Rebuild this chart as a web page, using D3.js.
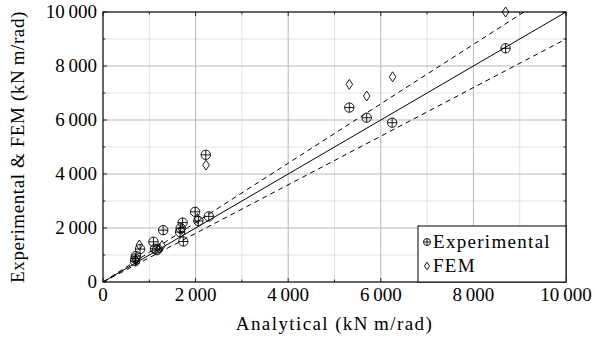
<!DOCTYPE html>
<html>
<head>
<meta charset="utf-8">
<script src="https://cdn.jsdelivr.net/npm/d3@7"></script>
<style>
  body { margin: 0; background: #fff; }
</style>
</head>
<body>
<div id="chart"></div>
<script>
// analytical vs experimental stiffness (kN m/rad)
const experimental = [
  [692, 770], [700, 870], [712, 960], [800, 1220],
  [1090, 1490], [1125, 1230], [1165, 1180], [1300, 1920],
  [1665, 1850], [1678, 1990], [1720, 2200], [1735, 1500],
  [1990, 2600], [2060, 2260], [2285, 2430], [2220, 4710],
  [5320, 6460], [5695, 6085], [6245, 5900], [8695, 8656]
];
const fem = [
  [705, 820], [785, 1370], [1215, 1240], [1275, 1350],
  [1700, 1950], [2040, 2350], [2225, 4330],
  [5320, 7320], [5695, 6890], [6255, 7600], [8695, 10000]
];
const majorTicks = [0, 2000, 4000, 6000, 8000, 10000];
const minorTicks = [1000, 3000, 5000, 7000, 9000];
const refLines = [
  { slope: 1.0, dash: null },
  { slope: 1.1, dash: '5,4' },
  { slope: 0.9, dash: '5,4' }
];

const W = 593, H = 339;
const margin = { top: 12, right: 27, bottom: 57, left: 103 };
const width = W - margin.left - margin.right;
const height = H - margin.top - margin.bottom;
const FONT = "'Liberation Serif', 'DejaVu Serif', 'Times New Roman', serif";

const fmt = d => d3.format(',')(d).replace(/,/g, '\u2009');

const x = d3.scaleLinear().domain([0, 10000]).range([0, width]);
const y = d3.scaleLinear().domain([0, 10000]).range([height, 0]);

const svg = d3.select('#chart').append('svg')
  .attr('width', W)
  .attr('height', H)
  .attr('font-family', FONT)
  .style('font-family', FONT);

const g = svg.append('g')
  .attr('transform', `translate(${margin.left},${margin.top})`);

// grid
g.append('g').selectAll('line').data(minorTicks).join('line')
  .attr('x1', d => x(d)).attr('x2', d => x(d))
  .attr('y1', 0).attr('y2', height)
  .attr('stroke', '#e3e3e3').attr('stroke-width', 1);
g.append('g').selectAll('line').data(minorTicks).join('line')
  .attr('y1', d => y(d)).attr('y2', d => y(d))
  .attr('x1', 0).attr('x2', width)
  .attr('stroke', '#e3e3e3').attr('stroke-width', 1);
g.append('g').selectAll('line').data(majorTicks.slice(1, -1)).join('line')
  .attr('x1', d => x(d)).attr('x2', d => x(d))
  .attr('y1', 0).attr('y2', height)
  .attr('stroke', '#b8b8b8').attr('stroke-width', 1);
g.append('g').selectAll('line').data(majorTicks.slice(1, -1)).join('line')
  .attr('y1', d => y(d)).attr('y2', d => y(d))
  .attr('x1', 0).attr('x2', width)
  .attr('stroke', '#b8b8b8').attr('stroke-width', 1);

// reference lines y = k x, clipped to the box
g.append('clipPath').attr('id', 'clip')
  .append('rect').attr('width', width).attr('height', height);
g.append('g').attr('clip-path', 'url(#clip)')
  .selectAll('line').data(refLines).join('line')
  .attr('x1', x(0)).attr('y1', y(0))
  .attr('x2', d => x(Math.min(10000, 10000 / d.slope)))
  .attr('y2', d => y(Math.min(10000, 10000 / d.slope) * d.slope))
  .attr('stroke', '#000').attr('stroke-width', 1)
  .attr('stroke-dasharray', d => d.dash);

// markers
function plusCircle(sel, r) {
  sel.append('circle').attr('r', r)
    .attr('fill', 'none').attr('stroke', '#000').attr('stroke-width', 0.9);
  sel.append('path').attr('d', `M${-r},0H${r}M0,${-r}V${r}`)
    .attr('stroke', '#000').attr('stroke-width', 0.9);
}
function diamond(sel, w, h) {
  sel.append('path').attr('d', `M0,${-h}L${w},0L0,${h}L${-w},0Z`)
    .attr('fill', 'none').attr('stroke', '#000').attr('stroke-width', 0.9);
}

g.append('g').selectAll('g').data(experimental).join('g')
  .attr('transform', d => `translate(${x(d[0])},${y(d[1])})`)
  .call(plusCircle, 4.7);
g.append('g').selectAll('g').data(fem).join('g')
  .attr('transform', d => `translate(${x(d[0])},${y(d[1])})`)
  .call(diamond, 3.3, 5);

// frame and inward ticks on all four sides
g.append('rect').attr('width', width).attr('height', height)
  .attr('fill', 'none').attr('stroke', '#000').attr('stroke-width', 1.2);

const tickData = majorTicks.map(v => ({ v, len: 4 })).concat(minorTicks.map(v => ({ v, len: 2.5 })));
const ticks = g.append('g').attr('stroke', '#000').attr('stroke-width', 0.8);
tickData.forEach(t => {
  ticks.append('line').attr('x1', x(t.v)).attr('x2', x(t.v)).attr('y1', height).attr('y2', height - t.len);
  ticks.append('line').attr('x1', x(t.v)).attr('x2', x(t.v)).attr('y1', 0).attr('y2', t.len);
  ticks.append('line').attr('y1', y(t.v)).attr('y2', y(t.v)).attr('x1', 0).attr('x2', t.len);
  ticks.append('line').attr('y1', y(t.v)).attr('y2', y(t.v)).attr('x1', width).attr('x2', width - t.len);
});

// tick labels
g.append('g').selectAll('text').data(majorTicks).join('text')
  .attr('x', d => x(d)).attr('y', height + 19)
  .attr('text-anchor', 'middle')
  .style('font-size', '19px')
  .text(fmt);
g.append('g').selectAll('text').data(majorTicks).join('text')
  .attr('x', -6).attr('y', d => y(d) + 6)
  .attr('text-anchor', 'end')
  .style('font-size', '19px')
  .text(fmt);

// axis titles
g.append('text')
  .attr('x', width / 2).attr('y', height + 48)
  .attr('text-anchor', 'middle')
  .style('font-size', '19px')
  .style('letter-spacing', '1.4px')
  .text('Analytical (kN\u2009m/rad)');
g.append('text')
  .attr('transform', `translate(${-79},${height / 2}) rotate(-90)`)
  .attr('text-anchor', 'middle')
  .style('font-size', '19px')
  .style('letter-spacing', '0.6px')
  .text('Experimental & FEM (kN\u2009m/rad)');

// legend
const legend = g.append('g').attr('transform', `translate(${width - 148},${height - 56})`);
legend.append('rect').attr('width', 148).attr('height', 56)
  .attr('fill', '#fff').attr('stroke', '#000').attr('stroke-width', 1);
const items = [{ name: 'Experimental', draw: s => plusCircle(s, 3.5) }, { name: 'FEM', draw: s => diamond(s, 2.6, 3.8) }];
items.forEach((it, i) => {
  const row = legend.append('g').attr('transform', `translate(9,${16 + i * 24})`);
  row.append('g').call(it.draw);
  row.append('text').attr('x', 6).attr('y', 6).style('font-size', '19px')
    .style('letter-spacing', '1.3px').text(it.name);
});
</script>
</body>
</html>
